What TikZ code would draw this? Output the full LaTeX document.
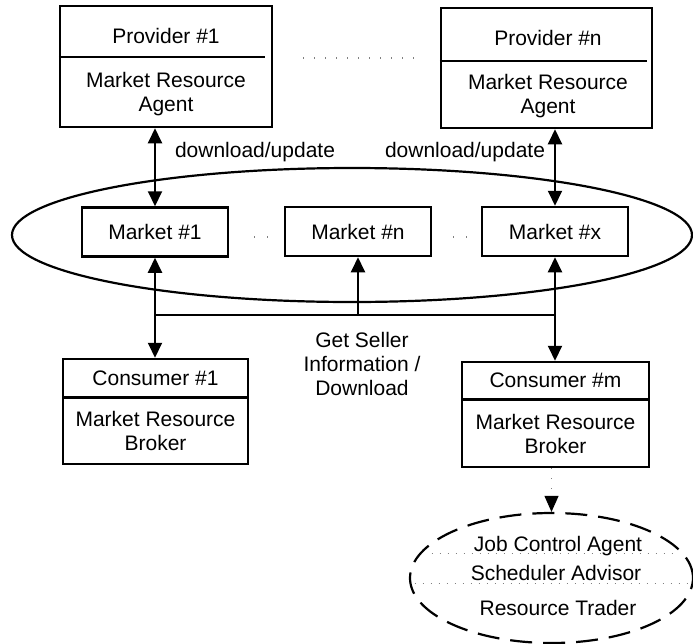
\documentclass[tikz,border=0pt]{standalone}
\usepackage{fontspec}
\setmainfont{Liberation Sans}
\usetikzlibrary{arrows.meta,shapes.geometric,calc}
\begin{document}
\begin{tikzpicture}[x=1pt,y=-1pt,
  box/.style={draw, line width=2.5pt, inner sep=0pt, align=center, font=\fontsize{21}{24}\selectfont},
  txt/.style={inner sep=0pt, align=center, font=\fontsize{21}{24}\selectfont},
  conn/.style={line width=2pt},
  tipa/.style={-{Triangle[length=15pt,width=14pt]}},
  tipb/.style={{Triangle[length=15pt,width=14pt]}-{Triangle[length=15pt,width=14pt]}},
  dotrow/.style={line width=1.3pt, gray, dash pattern=on 1.3pt off 9.7pt},
  inner/.style={line width=1pt, gray, dash pattern=on 1pt off 7pt},
  bigell/.style={draw, ellipse, line width=2.2pt, inner sep=0pt},
  dashell/.style={draw, ellipse, line width=2.2pt, inner sep=0pt, dash pattern=on 22pt off 11pt}
]
\useasboundingbox (0,0) rectangle (693,643);

% big market ellipse
\node[bigell, minimum width=680pt, minimum height=134pt] (mk) at (352,235) {};

% providers
\node[box, minimum width=212pt, minimum height=121pt] (p1) at (166,66.5) {};
\draw[line width=2.2pt] (p1.west |- 0,57) -- ($(p1.east |- 0,57)+(-8,0)$);
\node[txt, anchor=base] (p1t) at (166,43) {Provider \#1};
\node[txt] (p1b) at (166,94.5) {Market Resource\\Agent};

\node[box, minimum width=211pt, minimum height=120pt] (pn) at (546.5,68) {};
\draw[line width=2.2pt] (pn.west |- 0,61) -- ($(pn.east |- 0,61)+(-6,0)$);
\node[txt, anchor=base] (pnt) at (548,45) {Provider \#n};
\node[txt] (pnb) at (548,96.5) {Market Resource\\Agent};

\draw[dotrow] (303,58) -- (414,58);

% markets
\node[box, minimum width=146pt, minimum height=49pt] (m1) at (155,232) {Market \#1};
\node[box, minimum width=146pt, minimum height=49pt] (mn) at (358,231.5) {Market \#n};
\node[box, minimum width=146pt, minimum height=49pt] (mx) at (555,231.5) {Market \#x};
\draw[dotrow, dash pattern=on 1.3pt off 11.7pt] (254,237) -- (268,237);
\draw[dotrow, dash pattern=on 1.3pt off 11.7pt] (453,237) -- (467,237);

% consumers
\node[box, minimum width=185pt, minimum height=38pt] (c1t) at (155.5,378) {Consumer \#1};
\node[box, minimum width=185pt, minimum height=66pt] (c1b) at (155.5,431) {Market Resource\\Broker};
\node[box, minimum width=187pt, minimum height=37pt] (cmt) at (555.5,380.5) {Consumer \#m};
\node[box, minimum width=187pt, minimum height=67pt] (cmb) at (555.5,433.5) {Market Resource\\Broker};

% labels
\node[txt, anchor=base] (dl1) at (255,157) {download/update};
\node[txt, anchor=base] (dl2) at (465,157) {download/update};
\node[txt, anchor=north] (gs) at (362,332) {Get Seller\\Information /\\Download};

% connectors
\draw[conn, tipb] (p1.south -| m1.north) -- (m1.north);
\draw[conn, tipb] (pn.south -| mx.north) -- (mx.north);
\coordinate (busL) at (m1.south |- 0,315);
\coordinate (busR) at (mx.south |- 0,315);
\draw[conn] (busL) -- (busR);
\draw[conn, tipb] (m1.south) -- (m1.south |- c1t.north);
\draw[conn, tipb] (mx.south) -- (mx.south |- cmt.north);
\draw[conn, tipa] (mn.south |- busL) -- (mn.south);

% job control ellipse
\node[dashell, minimum width=283pt, minimum height=130pt] (je) at (551.5,578) {};
\draw[inner] ($(je.center)+(-120,-25)$) -- ($(je.center)+(126,-25)$);
\draw[inner] ($(je.center)+(-137,5)$) -- ($(je.center)+(139,5)$);
\node[txt, anchor=base] (jca) at (558,551) {Job Control Agent};
\node[txt, anchor=base] (sa) at (556,580) {Scheduler Advisor};
\node[txt, anchor=base] (rt) at (558,615) {Resource Trader};
\draw[line width=1pt, gray, dash pattern=on 1pt off 9pt, -{Triangle[length=16pt,width=14pt,black]}] (cmb.south -| je.north) -- (je.north);
\end{tikzpicture}
\end{document}
